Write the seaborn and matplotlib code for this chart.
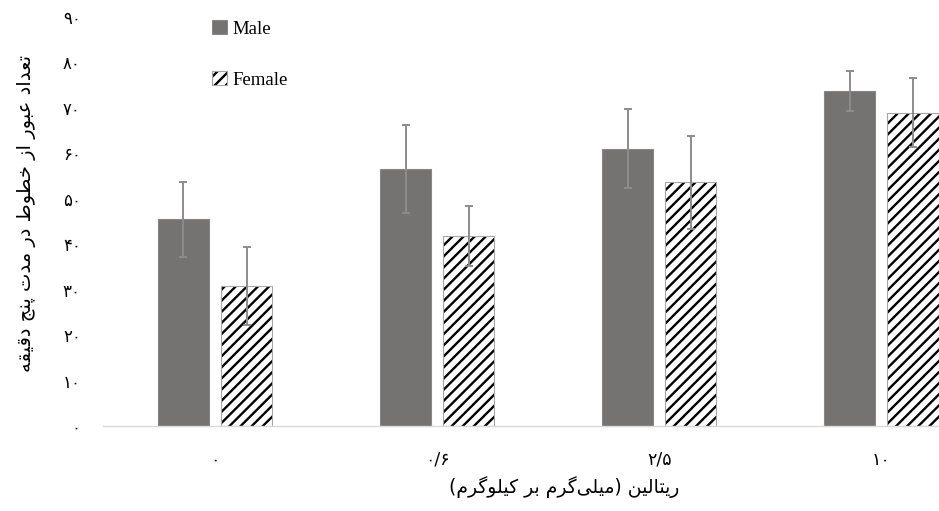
import matplotlib
matplotlib.use("Agg")
import matplotlib.pyplot as plt
import pandas as pd
import seaborn as sns

# ---- data -------------------------------------------------------------
doses = ["۰", "۰/۶", "۲/۵", "۱۰"]
sexes = ["Male", "Female"]
male_mean = [45.5, 56.6, 61.0, 73.8]
male_err = [8.3, 9.7, 8.7, 4.4]
female_mean = [30.8, 41.8, 53.6, 68.9]
female_err = [8.5, 6.6, 10.3, 7.6]
y_ticks = [0, 10, 20, 30, 40, 50, 60, 70, 80, 90]
y_tick_labels = ["۰", "۱۰", "۲۰", "۳۰", "۴۰", "۵۰", "۶۰", "۷۰", "۸۰", "۹۰"]
x_title = "ریتالین (میلی\u200cگرم بر کیلوگرم)"
y_title = "تعداد عبور از خطوط در مدت پنج دقیقه"

# ---- minimal Persian shaping (contextual forms + visual order) --------
FORMS = {
    "\u0627": ("\uFE8D", "\uFE8E", None, None),          # alef
    "\u0628": ("\uFE8F", "\uFE90", "\uFE91", "\uFE92"),  # beh
    "\u067E": ("\uFB56", "\uFB57", "\uFB58", "\uFB59"),  # peh
    "\u062A": ("\uFE95", "\uFE96", "\uFE97", "\uFE98"),  # teh
    "\u062C": ("\uFE9D", "\uFE9E", "\uFE9F", "\uFEA0"),  # jeem
    "\u062E": ("\uFEA5", "\uFEA6", "\uFEA7", "\uFEA8"),  # khah
    "\u062F": ("\uFEA9", "\uFEAA", None, None),          # dal
    "\u0631": ("\uFEAD", "\uFEAE", None, None),          # reh
    "\u0632": ("\uFEAF", "\uFEB0", None, None),          # zain
    "\u0637": ("\uFEC1", "\uFEC2", "\uFEC3", "\uFEC4"),  # tah
    "\u0639": ("\uFEC9", "\uFECA", "\uFECB", "\uFECC"),  # ain
    "\u0642": ("\uFED5", "\uFED6", "\uFED7", "\uFED8"),  # qaf
    "\u06A9": ("\uFB8E", "\uFB8F", "\uFB90", "\uFB91"),  # keheh
    "\u06AF": ("\uFB92", "\uFB93", "\uFB94", "\uFB95"),  # gaf
    "\u0644": ("\uFEDD", "\uFEDE", "\uFEDF", "\uFEE0"),  # lam
    "\u0645": ("\uFEE1", "\uFEE2", "\uFEE3", "\uFEE4"),  # meem
    "\u0646": ("\uFEE5", "\uFEE6", "\uFEE7", "\uFEE8"),  # noon
    "\u0647": ("\uFEE9", "\uFEEA", "\uFEEB", "\uFEEC"),  # heh
    "\u0648": ("\uFEED", "\uFEEE", None, None),          # waw
    "\u06CC": ("\uFBFC", "\uFBFD", "\uFBFE", "\uFBFF"),  # farsi yeh
}


def _dual(c):
    return c in FORMS and FORMS[c][2] is not None


def shape_rtl(text):
    out = []
    for i, c in enumerate(text):
        if c == "\u200c":
            continue
        if c not in FORMS:
            out.append(c)
            continue
        prev = text[i - 1] if i > 0 else ""
        nxt = text[i + 1] if i + 1 < len(text) else ""
        jp = _dual(prev)
        jn = _dual(c) and nxt in FORMS
        iso, fin, ini, med = FORMS[c]
        out.append(med if jp and jn else fin if jp else ini if jn else iso)
    return "".join(reversed(out)).translate(str.maketrans("()", ")("))


# ---- figure -------------------------------------------------------------
sns.set_theme(style="white")
plt.rcParams["font.family"] = ["DejaVu Sans"]
plt.rcParams["hatch.linewidth"] = 1.7

df = pd.DataFrame({
    "dose": doses * 2,
    "sex": [sexes[0]] * len(doses) + [sexes[1]] * len(doses),
    "count": male_mean + female_mean,
})

fig = plt.figure(figsize=(9.39, 5.11), dpi=100)
ax = fig.add_axes([103 / 939, 1 - 426 / 511, (939 - 103) / 939, (426 - 17) / 511])

sns.barplot(
    data=df, x="dose", y="count", hue="sex", order=doses, hue_order=sexes,
    palette={"Male": "#767171", "Female": "white"},
    width=0.57, gap=0.19, errorbar=None, ax=ax, legend=False,
)

male_bars, female_bars = ax.containers[0], ax.containers[1]
for p in male_bars:
    p.set_edgecolor("#8a8686")
    p.set_linewidth(0.8)
for p in female_bars:
    p.set_hatch("///")
    p.set_edgecolor("#a6a6a6")
    p.set_linewidth(0.8)
    p._hatch_color = (0.0, 0.0, 0.0, 1.0)  # black stripes, grey outline

for bars, errs in ((male_bars, male_err), (female_bars, female_err)):
    xs = [p.get_x() + p.get_width() / 2 for p in bars]
    hs = [p.get_height() for p in bars]
    ax.errorbar(xs, hs, yerr=errs, fmt="none", ecolor="#8c8c8c",
                elinewidth=1.4, capsize=3, capthick=1.4, zorder=5)

ax.set_ylim(0, 90)
ax.set_xlim(-0.505, 3.26)
ax.set_yticks(y_ticks)
ax.set_yticklabels(y_tick_labels, fontsize=12)
ax.set_xticks(range(len(doses)))
ax.set_xticklabels(doses, fontsize=12.5)
ax.tick_params(axis="y", length=0, pad=16, colors="black")
ax.tick_params(axis="x", length=0, pad=18, colors="black")

for side in ("left", "right", "top"):
    ax.spines[side].set_visible(False)
ax.spines["bottom"].set_color("#d9d9d9")
ax.spines["bottom"].set_linewidth(1.0)

ax.set_xlabel(shape_rtl(x_title), fontsize=13.5, color="black")
ax.set_ylabel(shape_rtl(y_title), fontsize=14, color="black")
ax.xaxis.set_label_coords((564 - 103) / (939 - 103), -50 / 409)
ax.yaxis.set_label_coords(-67 / 836, 0.52)

leg = ax.legend(
    handles=[male_bars[0], female_bars[0]], labels=sexes,
    loc="upper left", bbox_to_anchor=(212 / 939, 1 - 20 / 511),
    bbox_transform=fig.transFigure, frameon=False,
    prop={"family": "Liberation Serif", "size": 13.5},
    handlelength=0.8, handleheight=0.8, handletextpad=0.3,
    labelspacing=1.78, borderpad=0, borderaxespad=0,
)
for t in leg.get_texts():
    t.set_color("black")

fig.savefig("out.png", dpi=100)
